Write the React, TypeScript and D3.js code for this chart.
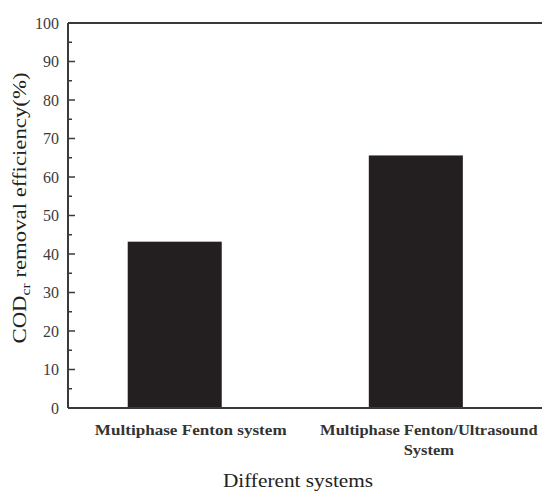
import React from "react";
import * as d3 from "d3";

const categories = ["Multiphase Fenton system", "Multiphase Fenton/Ultrasound System"];
const categoryLines = [["Multiphase Fenton system"], ["Multiphase Fenton/Ultrasound", "System"]];
const values = [43.2, 65.6];
const yTicks = [0, 10, 20, 30, 40, 50, 60, 70, 80, 90, 100];
const yMinorTicks = [5, 15, 25, 35, 45, 55, 65, 75, 85, 95];

const W = 542, H = 493;
const left = 68, right = 542, top = 23, bottom = 408;

export default function App() {
  const y = d3.scaleLinear().domain([0, 100]).range([bottom, top]);
  const x = d3.scaleBand().domain(categories).range([left, right]).paddingInner(0.61).paddingOuter(0.288).align(0.43);
  const font = "'Liberation Serif', 'Times New Roman', serif";
  const axisColor = "#3a3a3a";
  const labelScale = [1.14, 1.1];
  const labelShift = [16, 13];
  return (
    <svg width={W} height={H} style={{ position: "absolute", left: 0, top: 0, background: "#fff" }} fontFamily={font}>
      {categories.map((c, i) => (
        <rect key={c} x={x(c)!} y={y(values[i])} width={x.bandwidth()} height={bottom - y(values[i])} fill="#231f20" />
      ))}
      <line x1={left} x2={right} y1={top} y2={top} stroke={axisColor} strokeWidth={2} />
      <line x1={left} x2={right} y1={bottom} y2={bottom} stroke={axisColor} strokeWidth={2} />
      <line x1={left} x2={left} y1={top} y2={bottom} stroke={axisColor} strokeWidth={2} />
      {yTicks.map(t => (
        <g key={t}>
          <line x1={left} x2={left + 7} y1={y(t)} y2={y(t)} stroke={axisColor} strokeWidth={1.5} />
          <text x={59} y={y(t)} dy="0.35em" textAnchor="end" fontSize={16} fill="#3c3c3c">{t}</text>
        </g>
      ))}
      {yMinorTicks.map(t => (
        <line key={t} x1={left} x2={left + 4} y1={y(t)} y2={y(t)} stroke={axisColor} strokeWidth={1.5} />
      ))}
      {categories.map((c, i) => {
        const cx = x(c)! + x.bandwidth() / 2 + labelShift[i];
        return (
          <text key={c} transform={`translate(${cx}, 435) scale(${labelScale[i]}, 1)`} textAnchor="middle" fontSize={15} fontWeight="bold" fill="#333">
            {categoryLines[i].map((ln, j) => (
              <tspan key={j} x={0} dy={j === 0 ? 0 : 20}>{ln}</tspan>
            ))}
          </text>
        );
      })}
      <text transform={`translate(298, 487) scale(1.12, 1)`} textAnchor="middle" fontSize={19} fill="#222">Different systems</text>
      <text transform={`translate(26, 208) rotate(-90) scale(1.2, 1)`} textAnchor="middle" fontSize={19} fill="#222">
        COD<tspan fontSize={13} dy={4}>cr</tspan><tspan dy={-4}> removal efficiency(%)</tspan>
      </text>
    </svg>
  );
}
